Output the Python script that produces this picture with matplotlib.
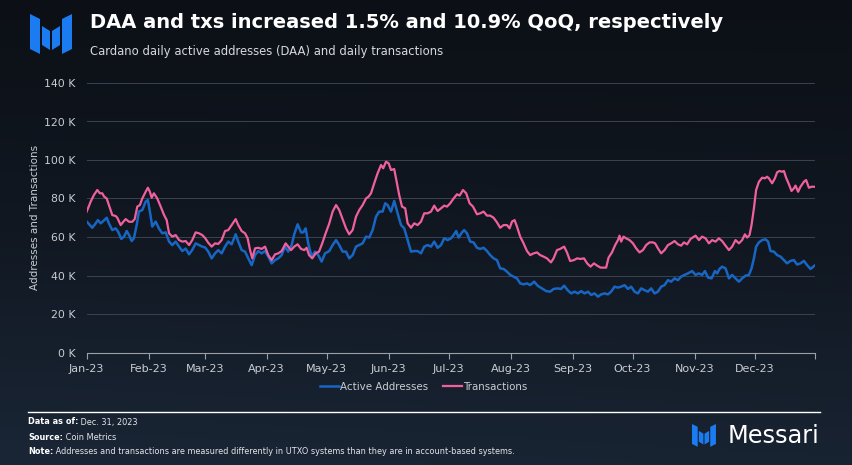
import matplotlib
matplotlib.use("Agg")
import matplotlib.pyplot as plt
import numpy as np
from matplotlib.patches import Polygon
from matplotlib.colors import LinearSegmentedColormap

# days since 2023-01-01, values in thousands
tx_days = [0, 2, 3.6, 5.3, 6.6, 7.8, 8.7, 10, 11.1, 12.8, 14.5, 15.3, 17, 18.3, 19.5, 21.2, 22.8, 24, 25.3, 26.6,
           27.8, 29.5, 30.6, 31.6, 32.5, 33.6, 35.3, 37, 38.7, 40, 41.2, 42.8, 44.5, 46.2, 47.8, 49.5, 51.2, 52.8,
           54.5, 56.2, 57.8, 59.2, 60.8, 62.5, 64.2, 65.8, 67.5, 69.2, 70.8, 72.5, 74.5, 75.8, 77.5, 79.2, 80.5,
           81.7, 82.8, 84.2, 85.8, 87.5, 89.2, 90.8, 92.5, 94.2, 95.8, 97.5, 99.5, 100.8, 102.2, 103.8, 105.5,
           107.2, 108.8, 110, 111.2, 112.8, 114.5, 116.2, 117.8, 119.5, 121.3, 123, 124.7, 126.3, 128, 129.7,
           131.3, 133, 134.7, 136.3, 138, 139.7, 141, 142.2, 143.8, 145.5, 147.2, 148.3, 149.7, 151, 152.2, 153.8,
           155, 156.3, 157.7, 159.3, 160.5, 162.2, 163.8, 165.5, 167.2, 168.8, 170.5, 172.2, 173.8, 175.5, 177.2,
           178.8, 180.2, 181.8, 183.5, 185.2, 186.5, 188.2, 189.8, 191.5, 193.2, 195.2, 196.8, 198.5, 200.2,
           201.8, 203.5, 205.2, 206.8, 208.5, 210.2, 211.5, 212.7, 214, 215.2, 216.8, 218.5, 220.2, 221.8, 223.5,
           225.2, 226.8, 228.5, 230.2, 232.2, 233.5, 235.2, 236.8, 238.8, 240.2, 241.8, 243.7, 245.3, 247, 248.7,
           250.3, 252, 253.7, 255.3, 257, 258.7, 259.8, 261, 262.7, 264.3, 265.7, 266.5, 267.3, 268.5, 269.8,
           271.5, 273.2, 274.8, 276.5, 278.2, 279.8, 281.5, 283.2, 284.3, 285.7, 287.3, 289, 290.7, 292.3, 294,
           295.7, 297.3, 298.7, 300.3, 302, 304.5, 306.2, 307.8, 309.5, 311.2, 312.8, 314.5, 316.2, 317.8, 319.5,
           321.2, 322.8, 324.5, 326.2, 327.8, 329.2, 330.3, 331.5, 332.5, 333.7, 334.8, 336.2, 337.8, 339.2,
           340.3, 341.2, 342.8, 344.2, 345.3, 346.5, 347.8, 348.7, 349.8, 351.2, 352.5, 353.7, 354.5, 355.8, 357,
           358.7, 359.8, 361.2, 362.5, 364]
tx_vals = [73.2, 78.4, 81.8, 84.4, 82.7, 82.7, 81, 80, 76.6, 71.4, 70.9, 70, 66.2, 67.9, 69.3, 67.9, 67.9, 69.3,
           75.8, 76.6, 80, 83.5, 85.6, 83.5, 80.4, 82.7, 80, 75.8, 71.4, 68.8, 61.9, 60.2, 61, 58.4, 57.6, 57.9,
           55.8, 58.4, 62.4, 61.9, 61, 59.5, 57, 55, 56.7, 56.4, 58.4, 63.1, 63.6, 66.2, 69.3, 66.2, 63.1, 61.9,
           59.3, 53.2, 48.9, 54.1, 54.4, 53.8, 55, 50.6, 48, 51, 51.5, 52.7, 56.7, 55, 53.2, 55, 56.2, 53.8, 53.2,
           54.4, 50.6, 48.9, 51.5, 52.4, 56.7, 61.9, 67, 73.2, 76.6, 74, 69.3, 64.5, 61.4, 63.6, 70.6, 74, 76.6,
           80, 81, 82.7, 87.9, 93.1, 97.4, 95.7, 99.1, 98.3, 94.8, 95.3, 88.7, 81.8, 75.8, 74.9, 67.1, 64.8, 67.1,
           66.2, 68, 72.3, 72.3, 73.2, 76.3, 73.5, 74.9, 76.3, 75.8, 77.5, 80, 82.2, 81.5, 84.4, 82.7, 77.5, 75.8,
           71.8, 72.3, 73.2, 71.1, 71.1, 70, 67.6, 64.8, 66.2, 66.2, 64.5, 68, 68.8, 65.4, 60.2, 56.7, 52.7, 50.6,
           51.5, 52, 50.6, 49.8, 48.9, 46.8, 48.9, 53.2, 53.8, 55, 52, 47.5, 48, 48.9, 48.6, 48.9, 46.3, 44.6,
           46.3, 45.1, 44.1, 44.1, 44.1, 49.3, 52, 55.8, 58.4, 60.7, 57.6, 60.2, 59.3, 58.4, 56.7, 54.1, 52, 53.2,
           55.8, 57.2, 57.2, 56.7, 54.1, 51.5, 53.2, 55.8, 56.7, 57.9, 56.2, 55.5, 57.2, 56.2, 59, 60.7, 58.4,
           60.2, 59.3, 56.7, 58.4, 57.6, 59.3, 57.9, 55.5, 53.2, 55, 58.4, 56.7, 58.4, 61.4, 59.7, 61, 66.2, 74.9,
           84.4, 88.7, 90.8, 90.5, 91.3, 90.5, 87.9, 90.5, 93.6, 94.3, 93.9, 94.3, 90.8, 87.4, 83.9, 85.3, 86.7,
           83.5, 86.1, 88.7, 89.6, 85.6, 86.1, 86.1]

daa_days = [0, 1.2, 2.8, 4.5, 5.6, 7, 8.3, 10, 11.1, 12.8, 14.5, 15.7, 17.3, 18.7, 20, 21.2, 22.5, 23.6, 25, 26.1,
            27.8, 29.5, 30.6, 31.6, 32.8, 34.5, 36.1, 37.8, 39.5, 41.2, 42.8, 44.5, 46.2, 47.8, 49.5, 51.2, 52.8,
            54.5, 56.2, 57.8, 59.3, 60.8, 62.5, 64.2, 65.8, 67.5, 69.2, 70.8, 72.5, 74.5, 75.8, 77.5, 79.2, 80.8,
            82.5, 84.2, 85.8, 87.5, 89.2, 90.8, 92.5, 94.2, 95.8, 97.5, 99.2, 100.8, 102.5, 103.8, 105.5, 107.2,
            108.3, 109.5, 110.8, 112.5, 114.2, 115.8, 117.5, 119.2, 121.3, 123, 124.7, 126.3, 128, 129.7, 131.3,
            133, 134.7, 136.3, 138, 139.7, 141.3, 143, 144.7, 146.3, 148, 149.3, 150.5, 152.2, 153.8, 155.5, 157.2,
            158.8, 160.5, 162.2, 163.8, 165.5, 167.2, 168.8, 170.5, 172.2, 173.8, 175.5, 177.2, 178.8, 180.5,
            182.2, 183.5, 184.8, 186, 187.7, 188.8, 190.2, 191.8, 193.5, 195.2, 196.8, 198.5, 200.2, 201.8, 203.5,
            205.2, 206.8, 208.5, 210.2, 211.8, 213.5, 215.2, 216.8, 218.5, 220.2, 221.8, 223.8, 225.5, 227.7,
            229.8, 231.8, 233.5, 235.5, 237.2, 238.8, 240.5, 242.3, 244, 245.7, 247.3, 249, 250.7, 252.3, 254,
            255.7, 257.3, 259, 260.7, 262.3, 264, 265.7, 267.3, 269, 270.7, 272.3, 274, 275.7, 277.3, 279, 280.7,
            282.3, 284, 285.7, 287.3, 289, 290.7, 292.3, 294, 295.7, 297.3, 299, 300.7, 302.8, 304.5, 306.2,
            307.8, 309.2, 310.8, 312.5, 314.2, 315.3, 316.5, 317.8, 319.5, 321.2, 322.8, 324.5, 326.2, 327.8,
            329.5, 331.2, 332.5, 333.7, 334.8, 336.2, 337.8, 339.5, 340.8, 342, 343.7, 345.3, 347, 348.7, 350.3,
            352, 353.7, 355.3, 357, 358.7, 360.3, 362, 364]
daa_vals = [68, 66.6, 64.8, 67.1, 68.8, 67.1, 68.3, 70, 67.1, 63.6, 64.5, 62.8, 59, 60.2, 63.1, 61, 57.9, 59.3,
            66.2, 73.2, 74, 78.4, 79.2, 73.2, 65.4, 68, 64.5, 61.9, 62.4, 57.6, 55.8, 57.6, 55, 52.7, 54, 51, 53.3,
            56.7, 55.8, 55, 54.5, 52.4, 48.9, 51.5, 53.2, 51.5, 55, 57.6, 56.2, 61.4, 57.6, 53.2, 52.4, 48.9, 45.4,
            50.6, 52.7, 51.5, 52.7, 49.8, 46.3, 48, 48.9, 50.6, 55, 52.4, 55.8, 61.4, 66.6, 62.4, 62.4, 64.5,
            56.7, 49.8, 52.4, 50.6, 47.2, 51.5, 52.7, 55.8, 58.4, 55.8, 52.4, 52.4, 48.9, 50.6, 55, 55.8, 56.7,
            60.2, 59.7, 63.6, 70.6, 73.2, 73.2, 77.5, 76.6, 73.2, 78.7, 72.3, 66.2, 64.5, 58.4, 52.4, 52.7, 52.7,
            51.5, 55, 55.8, 55, 57.6, 54.4, 55.8, 59.3, 58.4, 59.3, 61, 63.1, 59.7, 62.4, 63.6, 61.9, 57.6, 57.2,
            54.4, 53.8, 54.4, 52.7, 50.6, 48.9, 48, 43.7, 43.4, 42, 40.3, 39.4, 38.5, 35.9, 35.4, 35.9, 35, 36.8,
            34.7, 33.3, 31.9, 31.6, 33, 33.3, 33, 34.7, 32.4, 30.7, 31.6, 30.7, 31.9, 30.7, 31.6, 29.9, 30.7, 29,
            30.2, 30.7, 30.2, 31.6, 34.2, 33.7, 34.2, 35, 33, 34.2, 31.6, 30.7, 33.3, 32.4, 31.6, 33.3, 30.7, 31.6,
            34.2, 35, 37.6, 36.8, 38.5, 37.6, 39.4, 40.3, 41.1, 42.3, 40.3, 41.1, 40.3, 42.3, 38.9, 38.5, 42.3,
            41.1, 43.4, 44.6, 43.7, 38.5, 40.3, 38.5, 36.8, 38.5, 39.9, 40.3, 43.7, 48.9, 55, 57.2, 58.4, 58.8,
            57.6, 52.7, 52.4, 50.6, 49.8, 48, 46.3, 47.6, 48, 45.7, 46.3, 47.6, 45.4, 43.4, 45.1]

month_starts = [0, 31, 59, 90, 120, 151, 181, 212, 243, 273, 304, 334]
month_labels = ["Jan-23", "Feb-23", "Mar-23", "Apr-23", "May-23", "Jun-23",
                "Jul-23", "Aug-23", "Sep-23", "Oct-23", "Nov-23", "Dec-23"]
y_ticks = [0, 20, 40, 60, 80, 100, 120, 140]

W, H = 853, 465
fig = plt.figure(figsize=(W / 100, H / 100), dpi=100)

# background gradient
bg = fig.add_axes([0, 0, 1, 1], zorder=-10)
yy, xx = np.mgrid[0:1:200j, 0:1:200j]
grad = 0.75 * yy + 0.25 * (1 - xx) * yy + 0.15 * xx * yy
cmap = LinearSegmentedColormap.from_list("bg", ["#0c1016", "#111822", "#1a2636"])
bg.imshow(grad, cmap=cmap, aspect="auto", extent=[0, 1, 1, 0], vmin=0, vmax=1)
bg.set_xlim(0, 1)
bg.set_ylim(1, 0)
bg.axis("off")

def px(x, y):
    return x / W, 1 - y / H

# Messari logo
def logo(x0, y0, s, color="#1b7cf2"):
    pieces = [
        [(0, 0), (10, 5), (10, 40), (0, 35)],
        [(12, 12), (20, 17), (20, 36), (12, 31)],
        [(22, 17), (30, 12), (30, 31), (22, 36)],
        [(32, 5), (42, 0), (42, 35), (32, 40)],
    ]
    for p in pieces:
        pts = [px(x0 + a * s, y0 + b * s) for a, b in p]
        fig.patches.append(Polygon(pts, closed=True, transform=fig.transFigure,
                                   facecolor=color, edgecolor="none"))

logo(30, 14, 1.0)
logo(692, 424, 0.57)

fig.text(*px(90, 23), "DAA and txs increased 1.5% and 10.9% QoQ, respectively",
         color="white", fontsize=14, fontweight="bold", va="center", ha="left")
fig.text(*px(90, 52), "Cardano daily active addresses (DAA) and daily transactions",
         color="#d5d8dd", fontsize=8.4, va="center", ha="left")

ax = fig.add_axes([86.7 / W, 1 - 352.5 / H, (814.5 - 86.7) / W, (352.5 - 83) / H])
ax.patch.set_alpha(0)
ax.plot(daa_days, daa_vals, color="#1766c4", lw=1.8, label="Active Addresses", zorder=3)
ax.plot(tx_days, tx_vals, color="#f0609f", lw=1.6, label="Transactions", zorder=4)

ax.set_xlim(0, 364)
ax.set_ylim(0, 140)
ax.set_yticks(y_ticks)
ax.set_yticklabels([f"{v} K" for v in y_ticks])
ax.set_xticks(month_starts + [364])
ax.set_xticklabels(month_labels + [""])
ax.tick_params(axis="y", length=0, pad=8, labelsize=7.8, labelcolor="#c9cdd3")
ax.tick_params(axis="x", length=4, color="#9aa0a8", pad=4, labelsize=8, labelcolor="#c9cdd3")
ax.grid(axis="y", color="#3b4350", lw=0.7)
ax.set_axisbelow(True)
for s in ["top", "right", "left"]:
    ax.spines[s].set_visible(False)
ax.spines["bottom"].set_color("#9aa0a8")
ax.spines["bottom"].set_linewidth(0.8)
ax.set_ylabel("Addresses and Transactions", color="#c9cdd3", fontsize=7.5, labelpad=3)

leg = fig.legend(loc="center", bbox_to_anchor=px(424, 387), ncol=2, frameon=False,
                 fontsize=7.4, handlelength=1.85, handletextpad=0.1, columnspacing=1.45)
for t in leg.get_texts():
    t.set_color("#c9cdd3")

# footer
fig.add_artist(plt.Line2D([28 / W, 820 / W], [1 - 412 / H, 1 - 412 / H],
                          transform=fig.transFigure, color="white", lw=1))
foot = [("Data as of:", " Dec. 31, 2023", 422),
        ("Source:", " Coin Metrics", 437),
        ("Note:", " Addresses and transactions are measured differently in UTXO systems than they are in account-based systems.", 451)]
for bold, rest, y in foot:
    t = fig.text(*px(28, y), bold, color="white", fontsize=5.9, fontweight="bold", va="center")
    fig.canvas.draw()
    bb = t.get_window_extent()
    fig.text(bb.x1 / W, 1 - y / H, rest, color="#e4e6ea", fontsize=5.9, va="center")

fig.text(*px(728, 436), "Messari", color="white", fontsize=17.3, va="center", ha="left")

fig.savefig("out.png", dpi=100)
